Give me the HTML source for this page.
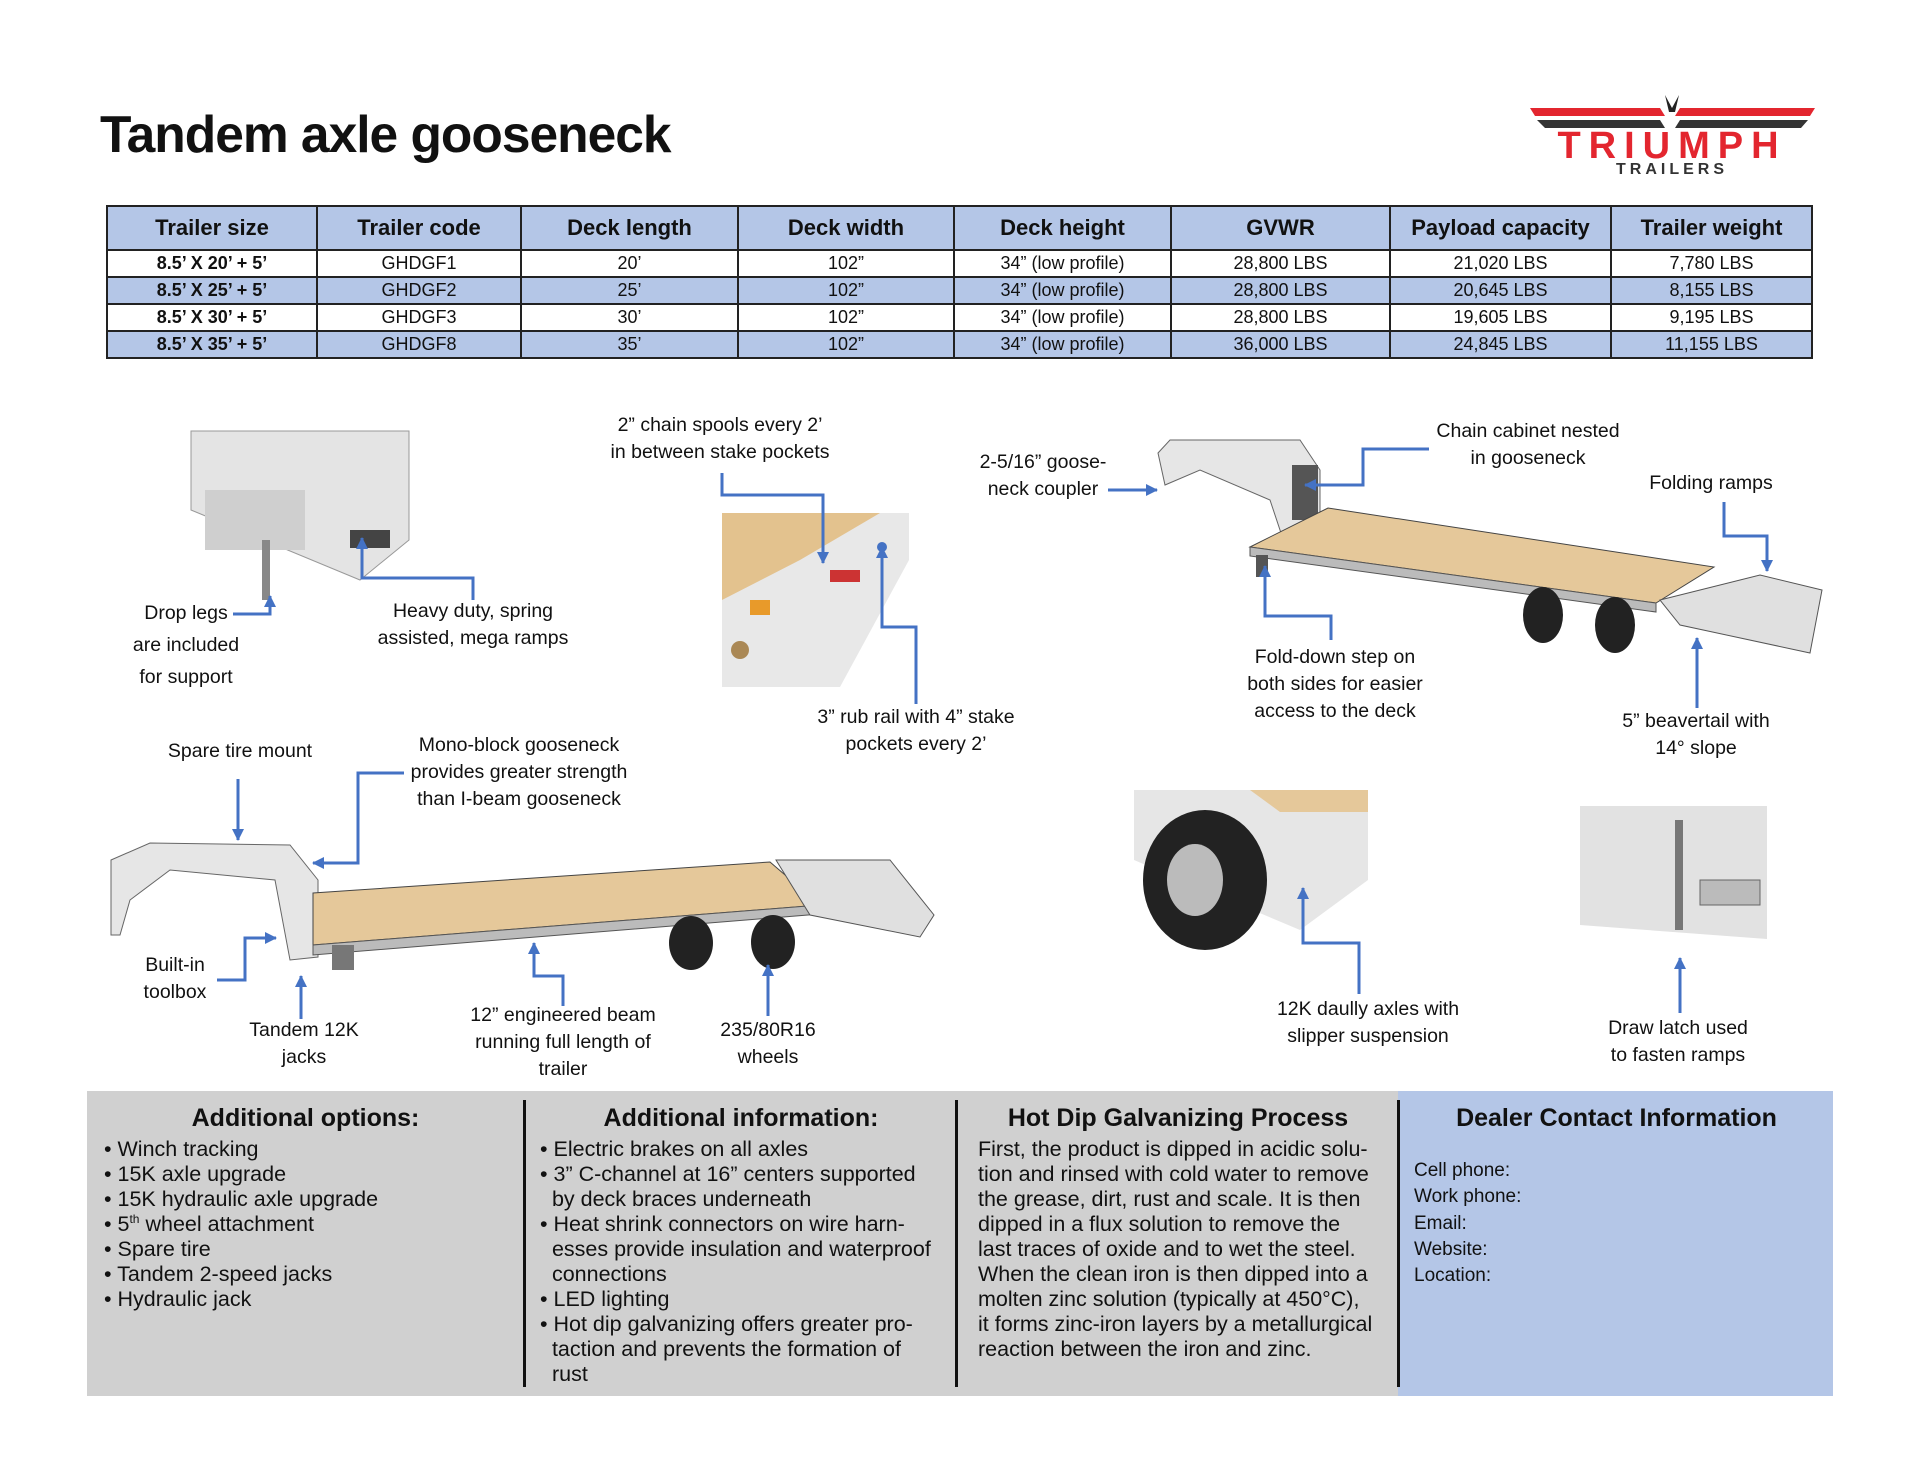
<!DOCTYPE html>
<html><head><meta charset="utf-8"><style>
body{margin:0;width:1920px;height:1484px;background:#fff;position:relative;overflow:hidden;font-family:"Liberation Sans",Arial,sans-serif;color:#111}
.t{position:absolute;white-space:nowrap}
.lb{position:absolute;font-size:19.5px;line-height:27px;text-align:center;transform:translateX(-50%);white-space:nowrap}
table{position:absolute;left:106px;top:205px;width:1707px;border-collapse:collapse;font-size:18px}
td,th{border:2px solid #222;text-align:center;padding:0}
th{background:#b4c6e7;height:42px;font-size:22px}
td{height:25px}
tr.b td{background:#b4c6e7}
td.f{font-weight:bold}
.panel{position:absolute;top:1091px;height:305px}
.h{position:absolute;font-weight:bold;font-size:25px;text-align:center}
.body{position:absolute;font-size:21.5px;line-height:25px}
sup{line-height:0;font-size:12px}
</style></head><body>
<div class="t" style="left:100px;top:104px;font-size:51.5px;font-weight:bold;letter-spacing:-1px">Tandem axle gooseneck</div>
<svg style="position:absolute;left:1525px;top:90px" width="295" height="85">
<polygon points="140,5 147,18 154,5 150,22 144,22" fill="#222"/>
<polygon points="5,18 135,18 140,26 10,26" fill="#e3262f"/><polygon points="155,18 290,18 285,26 150,26" fill="#e3262f"/>
<polygon points="12,30 135,30 140,38 20,38" fill="#333"/><polygon points="155,30 283,30 276,38 150,38" fill="#333"/>
<text x="147" y="68" font-size="38" font-weight="bold" fill="#e3262f" text-anchor="middle" letter-spacing="8" font-family="Liberation Sans">TRIUMPH</text>
<text x="147" y="84" font-size="16" font-weight="bold" fill="#333" text-anchor="middle" letter-spacing="4" font-family="Liberation Sans">TRAILERS</text>
</svg>
<table>
<tr><th style="width:208px">Trailer size</th><th style="width:202px">Trailer code</th><th style="width:215px">Deck length</th><th style="width:214px">Deck width</th><th style="width:215px">Deck height</th><th style="width:217px">GVWR</th><th style="width:219px">Payload capacity</th><th>Trailer weight</th></tr>
<tr><td class="f">8.5’ X 20’ + 5’</td><td>GHDGF1</td><td>20’</td><td>102”</td><td>34” (low profile)</td><td>28,800 LBS</td><td>21,020 LBS</td><td>7,780 LBS</td></tr>
<tr class="b"><td class="f">8.5’ X 25’ + 5’</td><td>GHDGF2</td><td>25’</td><td>102”</td><td>34” (low profile)</td><td>28,800 LBS</td><td>20,645 LBS</td><td>8,155 LBS</td></tr>
<tr><td class="f">8.5’ X 30’ + 5’</td><td>GHDGF3</td><td>30’</td><td>102”</td><td>34” (low profile)</td><td>28,800 LBS</td><td>19,605 LBS</td><td>9,195 LBS</td></tr>
<tr class="b"><td class="f">8.5’ X 35’ + 5’</td><td>GHDGF8</td><td>35’</td><td>102”</td><td>34” (low profile)</td><td>36,000 LBS</td><td>24,845 LBS</td><td>11,155 LBS</td></tr>
</table>

<svg style="position:absolute;left:0;top:0" width="1920" height="1484">
<defs><marker id="a" markerWidth="14" markerHeight="14" refX="11" refY="6" orient="auto" markerUnits="userSpaceOnUse"><path d="M0,0 L12,6 L0,12z" fill="#4472c4"/></marker></defs>
<polygon points="191,431 409,431 409,540 360,580 191,510" fill="#e4e4e4" stroke="#999"/>
<rect x="205" y="490" width="100" height="60" fill="#cfcfcf"/><rect x="262" y="540" width="8" height="60" fill="#888"/>
<rect x="350" y="530" width="40" height="18" fill="#444"/>
<polygon points="722,513 909,513 909,560 840,687 722,687" fill="#e8e8e8"/>
<polygon points="722,513 880,513 800,560 722,600" fill="#e3c28e"/>
<rect x="830" y="570" width="30" height="12" fill="#c33"/><rect x="750" y="600" width="20" height="15" fill="#e89a2a"/>
<circle cx="740" cy="650" r="9" fill="#a85"/>
<polygon points="1158,453 1170,440 1300,440 1320,470 1320,545 1290,560 1270,500 1200,470 1165,485" fill="#e6e6e6" stroke="#666"/>
<rect x="1292" y="465" width="26" height="55" fill="#555"/>
<polygon points="1250,547 1328,508 1714,567 1656,603" fill="#e5c89a" stroke="#444"/>
<polygon points="1250,547 1656,603 1656,612 1250,556" fill="#bbb" stroke="#555"/>
<polygon points="1660,600 1760,575 1822,590 1810,653 1680,625" fill="#e0e0e0" stroke="#555"/>
<ellipse cx="1543" cy="615" rx="20" ry="28" fill="#222"/><ellipse cx="1615" cy="625" rx="20" ry="28" fill="#222"/>
<rect x="1256" y="555" width="12" height="22" fill="#555"/>
<polygon points="111,860 150,843 290,845 318,880 318,957 290,960 275,880 170,870 130,900 120,935 111,935" fill="#e6e6e6" stroke="#666"/>
<polygon points="313,893 770,862 820,905 313,945" fill="#e5c89a" stroke="#444"/>
<polygon points="313,945 820,905 820,914 313,955" fill="#bbb" stroke="#555"/>
<polygon points="776,860 890,860 934,915 920,937 810,915" fill="#e0e0e0" stroke="#555"/>
<ellipse cx="691" cy="943" rx="22" ry="27" fill="#222"/><ellipse cx="773" cy="942" rx="22" ry="27" fill="#222"/>
<rect x="332" y="945" width="22" height="25" fill="#777"/>
<polygon points="1134,790 1368,790 1368,880 1300,930 1134,860" fill="#e6e6e6"/>
<polygon points="1250,790 1368,790 1368,812 1280,812" fill="#e5c89a"/>
<ellipse cx="1205" cy="880" rx="62" ry="70" fill="#222"/><ellipse cx="1195" cy="880" rx="28" ry="36" fill="#bbb"/>
<polygon points="1580,806 1767,806 1767,939 1580,925" fill="#e2e2e2"/>
<rect x="1700" y="880" width="60" height="25" fill="#bbb" stroke="#666"/><rect x="1675" y="820" width="8" height="110" fill="#777"/>
<g stroke="#4472c4" stroke-width="3" fill="none" marker-end="url(#a)">
<polyline points="233,614 270,614 270,596"/>
<polyline points="473,600 473,578 362,578 362,538"/>
<polyline points="722,473 722,495 823,495 823,563"/>
<polyline points="916,704 916,627 882,627 882,547"/>
<polyline points="1108,490 1157,490"/>
<polyline points="1429,449 1363,449 1363,485 1305,485"/>
<polyline points="1724,502 1724,536 1767,536 1767,571"/>
<polyline points="1331,640 1331,616 1265,616 1265,566"/>
<polyline points="1697,708 1697,638"/>
<polyline points="238,779 238,840"/>
<polyline points="404,773 358,773 358,863 313,863"/>
<polyline points="217,980 245,980 245,938 276,938"/>
<polyline points="301,1019 301,976"/>
<polyline points="563,1006 563,976 534,976 534,943"/>
<polyline points="768,1016 768,965"/>
<polyline points="1359,994 1359,943 1303,943 1303,888"/>
<polyline points="1680,1013 1680,958"/>
</g>
<circle cx="882" cy="547" r="5" fill="#4472c4"/>
</svg>

<div class="lb" style="left:720px;top:412px">2” chain spools every 2’<br>in between stake pockets</div>
<div class="lb" style="left:186px;top:597px;line-height:32px">Drop legs<br>are included<br>for support</div>
<div class="lb" style="left:473px;top:598px">Heavy duty, spring<br>assisted, mega ramps</div>
<div class="lb" style="left:916px;top:704px">3” rub rail with 4” stake<br>pockets every 2’</div>
<div class="lb" style="left:1043px;top:449px">2-5/16” goose-<br>neck coupler</div>
<div class="lb" style="left:1528px;top:418px">Chain cabinet nested<br>in gooseneck</div>
<div class="lb" style="left:1711px;top:470px">Folding ramps</div>
<div class="lb" style="left:1335px;top:644px">Fold-down step on<br>both sides for easier<br>access to the deck</div>
<div class="lb" style="left:1696px;top:708px">5” beavertail with<br>14° slope</div>
<div class="lb" style="left:240px;top:738px">Spare tire mount</div>
<div class="lb" style="left:519px;top:732px">Mono-block gooseneck<br>provides greater strength<br>than I-beam gooseneck</div>
<div class="lb" style="left:175px;top:952px">Built-in<br>toolbox</div>
<div class="lb" style="left:304px;top:1017px">Tandem 12K<br>jacks</div>
<div class="lb" style="left:563px;top:1002px">12” engineered beam<br>running full length of<br>trailer</div>
<div class="lb" style="left:768px;top:1017px">235/80R16<br>wheels</div>
<div class="lb" style="left:1368px;top:996px">12K daully axles with<br>slipper suspension</div>
<div class="lb" style="left:1678px;top:1015px">Draw latch used<br>to fasten ramps</div>

<div class="panel" style="left:87px;width:1311px;background:#d0d0d0"></div>
<div class="panel" style="left:1398px;width:435px;background:#b4c6e7"></div>
<div style="position:absolute;left:523px;top:1100px;width:3px;height:287px;background:#111"></div>
<div style="position:absolute;left:955px;top:1100px;width:3px;height:287px;background:#111"></div>
<div style="position:absolute;left:1397px;top:1100px;width:3px;height:287px;background:#111"></div>
<div class="h" style="left:87px;width:437px;top:1104px">Additional options:</div>
<div class="h" style="left:526px;width:430px;top:1104px">Additional information:</div>
<div class="h" style="left:958px;width:440px;top:1104px">Hot Dip Galvanizing Process</div>
<div class="h" style="left:1400px;width:433px;top:1104px">Dealer Contact Information</div>
<div class="body" style="left:104px;top:1137px">• Winch tracking<br>• 15K axle upgrade<br>• 15K hydraulic axle upgrade<br>• 5<sup>th</sup> wheel attachment<br>• Spare tire<br>• Tandem 2-speed jacks<br>• Hydraulic jack</div>
<div class="body" style="left:540px;top:1137px">• Electric brakes on all axles<br>• 3” C-channel at 16” centers supported<br>&nbsp;&nbsp;by deck braces underneath<br>• Heat shrink connectors on wire harn-<br>&nbsp;&nbsp;esses provide insulation and waterproof<br>&nbsp;&nbsp;connections<br>• LED lighting<br>• Hot dip galvanizing offers greater pro-<br>&nbsp;&nbsp;taction and prevents the formation of<br>&nbsp;&nbsp;rust</div>
<div class="body" style="left:978px;top:1137px">First, the product is dipped in acidic solu-<br>tion and rinsed with cold water to remove<br>the grease, dirt, rust and scale. It is then<br>dipped in a flux solution to remove the<br>last traces of oxide and to wet the steel.<br>When the clean iron is then dipped into a<br>molten zinc solution (typically at 450°C),<br>it forms zinc-iron layers by a metallurgical<br>reaction between the iron and zinc.</div>
<div class="body" style="left:1414px;top:1158px;font-size:19px;line-height:26.3px">Cell phone:<br>Work phone:<br>Email:<br>Website:<br>Location:</div>
</body></html>
